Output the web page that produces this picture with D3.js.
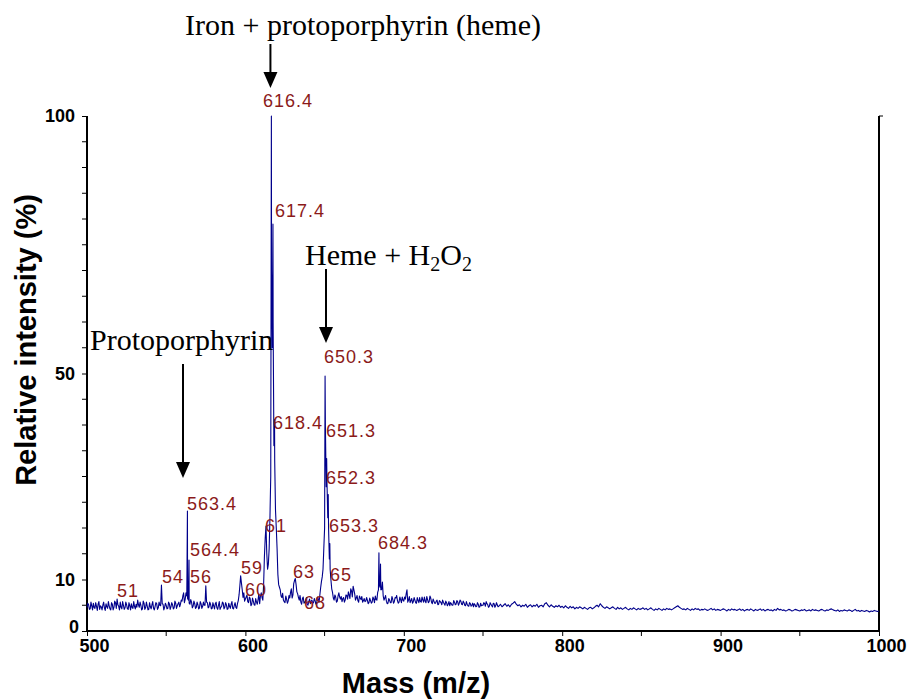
<!DOCTYPE html>
<html><head><meta charset="utf-8">
<script src="https://cdn.jsdelivr.net/npm/d3@7"></script>
<style>body{margin:0;background:#fff}</style>
</head><body><svg id="c" width="914" height="700"></svg>
<script>
// ---------- data ----------
const xTickValues = [500, 600, 700, 800, 900, 1000];
const xMinorTicks = [550, 650, 750, 850, 950];
const yTickLabels = [0, 10, 50, 100];
const yMinorTicks = [5,15,20,25,30,35,40,45,55,60,65,70,75,80,85,90,95];

// intensity (%) at each integer mass, starting at m/z 500
const baselineStart = 500;
const baseline = [
4.6,5.1,4.3,4.9,5.4,4.4,4.8,5.2,4.2,4.7,
5.0,4.5,5.3,4.4,4.9,4.1,5.2,4.6,5.5,6.2,
4.8,5.6,4.3,5.0,4.5,5.1,4.2,4.9,5.3,4.4,
4.8,5.2,6.0,4.6,5.0,4.3,5.4,4.5,4.9,4.2,
4.7,5.1,4.4,4.8,5.3,4.5,5.0,8.9,5.2,4.6,
5.0,4.4,5.3,4.7,5.1,4.5,5.4,4.9,5.6,5.2,
5.8,7.4,6.2,6.8,6.0,5.2,5.6,4.8,5.3,4.6,
5.1,4.5,5.3,4.8,5.0,8.8,5.5,4.7,5.2,4.4,
4.9,5.3,4.5,5.0,4.2,4.8,5.4,4.6,5.1,4.3,
4.8,5.2,4.4,5.0,4.6,5.3,7.0,10.7,8.0,7.4,
6.2,7.0,5.5,6.3,5.2,5.8,5.0,5.6,6.1,5.3,
7.4,6.0,14.4,20.4,12.0,16.0,30.0,55.0,36.0,23.5,
16.0,9.0,8.0,6.5,6.0,5.5,6.2,5.8,6.4,8.2,
7.0,9.8,9.0,7.2,6.0,5.6,6.3,5.4,5.8,5.2,
5.7,5.3,6.0,5.5,5.9,5.4,6.2,7.0,9.6,12.0,
20.0,28.0,22.0,14.0,9.9,7.5,6.0,6.6,5.8,7.4,
6.2,5.7,6.5,6.0,6.9,7.6,6.3,7.8,8.7,7.2,
6.4,5.9,6.8,6.1,5.6,6.3,5.8,6.0,5.5,5.9,
5.6,6.2,6.8,6.0,8.0,8.5,8.0,6.8,6.4,5.8,
5.4,6.0,5.5,6.2,5.7,6.4,5.9,5.6,6.1,6.6,
5.8,6.2,8.0,6.0,5.5,6.3,5.7,6.0,5.4,5.9,
6.5,5.6,6.0,6.6,5.5,6.1,5.7,6.4,5.3,5.8,
5.4,6.0,5.2,5.7,5.1,5.6,5.0,5.5,5.2,4.9,
5.3,5.0,5.6,5.2,5.7,5.4,5.8,5.1,5.5,4.9,
5.2,4.8,5.3,5.0,4.7,5.1,4.8,5.2,4.7,4.9,
5.0,5.3,5.7,5.1,4.8,5.2,4.7,5.3,4.9,5.1,
4.8,5.2,4.7,5.0,5.3,4.8,5.1,4.7,5.2,5.4,
5.7,5.2,4.9,5.1,4.7,5.0,4.8,5.2,4.6,4.9,
5.1,4.7,5.0,4.8,5.2,4.6,4.9,5.0,4.7,5.3,
5.5,5.0,4.7,5.1,4.8,4.6,4.9,4.7,5.0,4.6,
4.8,4.5,4.9,4.6,4.4,4.8,4.5,4.7,4.3,4.6,
4.4,4.7,4.5,4.3,4.6,4.4,4.2,4.5,4.6,4.3,
4.5,4.8,5.0,4.7,5.3,4.9,4.6,4.4,4.7,4.5,
4.3,4.5,4.7,4.4,4.2,4.6,4.3,4.5,4.2,4.4,
4.6,4.3,4.1,4.4,4.2,4.5,4.3,4.1,4.4,4.2,
4.3,4.5,4.2,4.4,4.1,4.3,4.5,4.2,4.0,4.3,
4.1,4.4,4.2,4.0,4.3,4.1,4.4,4.2,4.3,4.1,
4.3,4.5,4.7,4.9,4.6,4.4,4.2,4.3,4.1,4.4,
4.2,4.0,4.3,4.1,4.4,4.2,4.3,4.0,4.2,4.1,
4.3,4.1,4.0,4.2,4.4,4.1,4.3,4.0,4.2,4.1,
4.0,4.2,4.3,4.1,3.9,4.2,4.0,4.3,4.1,4.2,
4.0,4.1,4.3,4.0,4.2,3.9,4.1,4.2,4.0,4.3,
4.1,3.9,4.2,4.0,4.1,4.3,4.0,4.2,3.9,4.1,
4.2,4.0,4.1,3.9,4.2,4.0,4.4,4.1,4.2,4.0,
4.1,3.9,4.0,4.2,4.1,3.9,4.0,4.2,4.1,4.0,
3.9,4.1,4.0,4.2,3.9,4.0,4.1,3.9,4.2,4.0,
4.1,4.0,3.9,4.1,4.2,4.0,3.9,4.1,4.0,4.2,
4.3,4.1,4.0,3.9,4.1,3.8,4.0,3.9,4.1,4.0,
3.9,4.1,4.0,3.8,4.0,4.2,3.9,4.0,3.8,4.0,
3.9,3.8,4.0,3.9,3.7,3.9,3.8,4.0,3.9,3.8,
3.9
];

// intensity (%) at half-integer masses 500.5 … 759.5 (noisy region)
const halfStart = 500.5;
const halfValues = [
5.4,4.2,5.6,4.1,4.6,5.5,4.0,5.7,4.9,4.1,
5.6,4.0,4.7,5.7,4.3,5.5,4.1,5.8,4.4,5.1,
4.1,4.6,5.7,4.2,5.6,4.3,5.5,4.1,4.6,5.7,
4.3,4.6,5.1,5.6,4.1,5.8,4.2,5.6,4.1,5.5,
4.3,5.7,4.1,5.5,4.2,5.6,4.9,5.3,4.1,5.4,
4.3,5.6,4.2,5.5,4.3,5.8,4.4,5.3,4.7,6.0,
6.8,5.5,7.4,6.3,5.4,6.1,4.5,5.8,4.4,5.6,
4.3,5.7,4.4,5.6,5.0,5.6,4.5,5.6,4.3,5.5,
4.3,5.6,4.2,5.7,4.6,5.6,4.3,5.5,4.2,5.4,
4.4,5.7,4.3,5.5,4.4,5.9,8.8,9.3,6.5,5.8,
6.6,5.7,6.6,4.9,6.4,5.1,6.3,5.2,7.2,6.8,
6.5,9.0,18.0,15.0,13.0,22.0,70.0,60.0,33.0,20.0,
11.0,8.5,6.8,7.3,5.7,6.8,5.4,6.9,7.5,6.4,
9.2,10.2,7.6,6.5,6.9,5.2,6.6,5.6,6.5,5.0,
6.2,5.8,5.4,6.3,5.2,6.6,5.6,8.4,10.5,16.0,
40.0,29.0,20.0,12.0,8.2,6.4,7.0,5.6,6.8,6.6,
6.7,6.3,5.6,7.0,6.2,7.0,8.2,6.6,8.0,6.0,
6.9,5.6,6.4,6.7,5.9,5.7,6.5,5.3,6.4,5.4,
6.6,5.5,6.1,7.5,9.0,8.0,9.5,6.0,6.9,5.3,
6.3,5.5,6.7,5.4,6.5,6.9,5.4,6.6,5.5,6.0,
6.6,7.2,5.6,6.7,5.9,5.4,6.5,5.5,6.5,5.5,
5.7,6.6,5.6,5.8,6.7,5.5,6.8,5.6,6.2,5.4,
5.8,5.1,5.9,5.5,6.0,5.3,5.8,4.9,5.7,5.5,
5.0,5.9,5.1,5.9,5.0,6.0,5.2,5.8,5.0,5.7,
4.9,5.5,4.8,5.4,5.3,4.7,5.5,4.6,5.4,5.0,
5.5,4.8,5.3,4.6,5.5,4.9,5.4,4.6,5.5,4.7
];

// isotopic peak apexes
const peakMass = [563.4, 564.4, 616.4, 617.4, 618.4, 650.3, 651.3, 652.3, 653.3, 684.3, 685.3];
const peakInt  = [23.3, 13.8, 100, 79, 41, 49.5, 33.5, 26.5, 17, 15.2, 13.0];

// peak labels (anchor = left/baseline in data units)
const labelText = ["616.4","617.4","618.4","650.3","651.3","652.3","653.3","684.3","563.4","564.4","51","54","56","59","60","61","63","65","68"];
const labelMass = [611.1, 618.7, 617.4, 649.6, 650.9, 650.9, 652.8, 683.7, 563.1, 565.0, 518.9, 547.3, 565.0, 597.2, 599.7, 612.4, 630.1, 653.4, 637.0];
const labelInt  = [101.7, 80.4, 39.2, 52.0, 37.7, 28.5, 19.2, 15.9, 23.5, 14.6, 6.6, 9.3, 9.3, 11.1, 6.8, 19.2, 10.3, 9.7, 4.3];

// ---------- chart ----------
const svg = d3.select("#c");
const x = d3.scaleLinear().domain([500, 1000]).range([87, 879]);
const y = d3.scaleLinear().domain([0, 100]).range([631, 116]);

const pts = baseline.map((v, i) => [baselineStart + i, v])
  .concat(halfValues.map((v, i) => [halfStart + i, v]))
  .concat(peakMass.map((m, i) => [m, peakInt[i]]))
  .sort((a, b) => a[0] - b[0]);

const sans = "'Liberation Sans', Arial, sans-serif";
// axes
const gx = svg.append("g").attr("transform", "translate(0,631)")
  .call(d3.axisBottom(x).tickValues(xTickValues).tickSize(5).tickPadding(3).tickFormat(d3.format("d")));
gx.append("g").selectAll("line").data(xMinorTicks).join("line")
  .attr("x1", d => x(d)).attr("x2", d => x(d)).attr("y1", 0).attr("y2", 5).attr("stroke", "#000");
const gy = svg.append("g").attr("transform", "translate(87,0)")
  .call(d3.axisLeft(y).tickValues(yTickLabels).tickSize(5).tickPadding(7).tickFormat(d3.format("d")));
gy.append("g").selectAll("line").data(yMinorTicks).join("line")
  .attr("x1", 0).attr("x2", -5).attr("y1", d => y(d)).attr("y2", d => y(d)).attr("stroke", "#000");
[gx, gy].forEach(g => {
  g.select(".domain").attr("stroke", "#000").attr("stroke-width", 2)
    .attr("d", g === gx ? `M${x(500)},0H${x(1000)}` : `M0,${y(0)}V${y(100)}`);
  g.selectAll(".tick line").attr("stroke", "#000");
  g.selectAll("text").attr("font-family", sans)
    .attr("font-weight", "bold").attr("font-size", 18).attr("fill", "#000");
});
gx.selectAll(".tick text").attr("dx", 7);
gy.selectAll(".tick text").filter(d => d === 0).attr("dx", 4).attr("dy", "0.1em");
// right axis
svg.append("line").attr("x1", x(1000)).attr("x2", x(1000)).attr("y1", y(0)).attr("y2", y(100))
  .attr("stroke", "#000").attr("stroke-width", 2);
svg.append("line").attr("x1", x(1000)).attr("x2", x(1000) + 4).attr("y1", y(100)).attr("y2", y(100))
  .attr("stroke", "#000");

// spectrum
svg.append("path").datum(pts)
  .attr("d", d3.line().x(d => x(d[0])).y(d => y(d[1])))
  .attr("fill", "none").attr("stroke", "#00008b").attr("stroke-width", 1.1).attr("stroke-linejoin", "round");

// peak labels
svg.append("g").selectAll("text").data(labelText).join("text")
  .attr("x", (d, i) => x(labelMass[i])).attr("y", (d, i) => y(labelInt[i]))
  .attr("font-family", sans).attr("font-size", 18)
  .attr("letter-spacing", 1).attr("fill", "#8b1a1a").text(d => d);

// axis titles
svg.append("text").attr("x", 416).attr("y", 693).attr("text-anchor", "middle")
  .attr("font-family", sans).attr("font-weight", "bold").attr("font-size", 29).text("Mass (m/z)");
svg.append("text").attr("transform", "translate(36,340) rotate(-90)").attr("text-anchor", "middle")
  .attr("font-family", sans).attr("font-weight", "bold").attr("font-size", 29).text("Relative intensity (%)");

// annotations
const serif = "'Liberation Serif', 'Times New Roman', serif";
function arrow(mx, yTop, yTip) {
  const px = x(mx);
  svg.append("line").attr("x1", px).attr("x2", px).attr("y1", yTop).attr("y2", yTip - 14)
    .attr("stroke", "#000").attr("stroke-width", 2);
  svg.append("path").attr("d", `M${px - 7},${yTip - 16}L${px + 7},${yTip - 16}L${px},${yTip}Z`).attr("fill", "#000");
}
svg.append("text").attr("x", 185).attr("y", 35).attr("font-family", serif).attr("font-size", 30)
  .text("Iron + protoporphyrin (heme)");
arrow(615.8, 44, 88);
const h = svg.append("text").attr("x", 305).attr("y", 265).attr("font-family", serif).attr("font-size", 30);
h.append("tspan").text("Heme + H");
h.append("tspan").attr("font-size", 20).attr("dy", 6).text("2");
h.append("tspan").attr("dy", -6).text("O");
h.append("tspan").attr("font-size", 20).attr("dy", 6).text("2");
arrow(650.9, 269, 343);
svg.append("text").attr("x", 90).attr("y", 350).attr("font-family", serif).attr("font-size", 30)
  .text("Protoporphyrin");
arrow(560.6, 364, 478);
</script></body></html>
